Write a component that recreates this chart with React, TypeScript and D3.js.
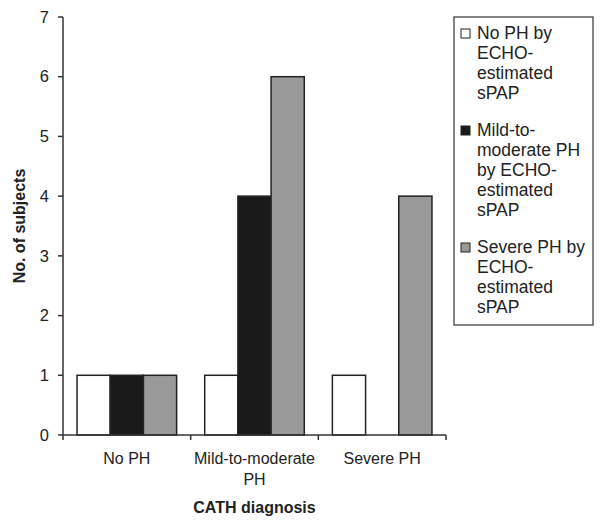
import React from "react";
import * as d3 from "d3";

const categories = ["No PH", "Mild-to-moderate PH", "Severe PH"];
const categoryLines = [["No PH"], ["Mild-to-moderate", "PH"], ["Severe PH"]];
const seriesNames = ["No PH by ECHO-estimated sPAP", "Mild-to-moderate PH by ECHO-estimated sPAP", "Severe PH by ECHO-estimated sPAP"];
const legendLines = [
  ["No PH by", "ECHO-", "estimated", "sPAP"],
  ["Mild-to-", "moderate PH", "by ECHO-", "estimated", "sPAP"],
  ["Severe PH by", "ECHO-", "estimated", "sPAP"],
];
const seriesColors = ["#ffffff", "#1a1a1a", "#999999"];
const noPHEcho = [1, 1, 1];
const mildPHEcho = [1, 4, 0];
const severePHEcho = [1, 6, 4];
const yTicks = [0, 1, 2, 3, 4, 5, 6, 7];

export default function App() {
  const W = 600, H = 522;
  const left = 63, right = 446, top = 17, bottom = 435;
  const font = "'Liberation Sans', Arial, sans-serif";
  const y = d3.scaleLinear().domain([0, 7]).range([bottom, top]);
  const x0 = d3.scaleBand().domain(categories).range([left, right]).paddingInner(0.22).paddingOuter(0.11);
  const values = [noPHEcho, mildPHEcho, severePHEcho];
  const x1 = d3.scaleBand().domain(seriesNames).range([0, x0.bandwidth()]);
  const boundaries = [left, ...categories.map((c) => (x0(c) as number) + x0.bandwidth() + (x0.step() - x0.bandwidth()) / 2)];

  const legendStarts = [39, 136, 253];

  return (
    <svg width={W} height={H} style={{ position: "absolute", left: 0, top: 0 }} fontFamily={font}>
      <rect width={W} height={H} fill="#fff" />
      {values.map((vals, s) =>
        categories.map((c, ci) =>
          vals[ci] > 0 ? (
            <rect key={`${s}-${ci}`} x={(x0(c) as number) + (x1(seriesNames[s]) as number)} y={y(vals[ci])}
              width={x1.bandwidth()} height={y(0) - y(vals[ci])} fill={seriesColors[s]} stroke="#222" strokeWidth={1.5} />
          ) : null
        )
      )}
      <line x1={left} x2={left} y1={top} y2={bottom} stroke="#333" strokeWidth={1.5} />
      <line x1={left} x2={right} y1={bottom} y2={bottom} stroke="#333" strokeWidth={1.5} />
      {yTicks.map((t) => (
        <g key={t}>
          <line x1={left - 5} x2={left} y1={y(t)} y2={y(t)} stroke="#333" strokeWidth={1.5} />
          <text x={49} y={y(t)} dy="0.35em" textAnchor="end" fontSize={16.5} fill="#222">{t}</text>
        </g>
      ))}
      {boundaries.map((b, i) => (
        <line key={i} x1={b} x2={b} y1={bottom} y2={bottom + 5} stroke="#333" strokeWidth={1.5} />
      ))}
      {categories.map((c, ci) => (
        <text key={c} x={(x0(c) as number) + x0.bandwidth() / 2} y={464} textAnchor="middle" fontSize={16} fill="#222">
          {categoryLines[ci].map((l, li) => (
            <tspan key={li} x={(x0(c) as number) + x0.bandwidth() / 2} dy={li === 0 ? 0 : 21}>{l}</tspan>
          ))}
        </text>
      ))}
      <text x={(left + right) / 2} y={513} textAnchor="middle" fontSize={16} fontWeight="bold" fill="#222">CATH diagnosis</text>
      <text transform={`translate(25,${(top + bottom) / 2}) rotate(-90)`} textAnchor="middle" fontSize={16} fontWeight="bold" fill="#222">No. of subjects</text>
      <rect x={454} y={17} width={139} height={308} fill="none" stroke="#333" strokeWidth={1.2} />
      {legendLines.map((lines, i) => (
        <g key={i}>
          <rect x={461} y={legendStarts[i] - 10} width={9} height={9} fill={seriesColors[i]} stroke="#222" strokeWidth={1} />
          {lines.map((l, li) => (
            <text key={li} x={477} y={legendStarts[i] + li * 20} fontSize={17.5} fill="#222">{l}</text>
          ))}
        </g>
      ))}
    </svg>
  );
}
